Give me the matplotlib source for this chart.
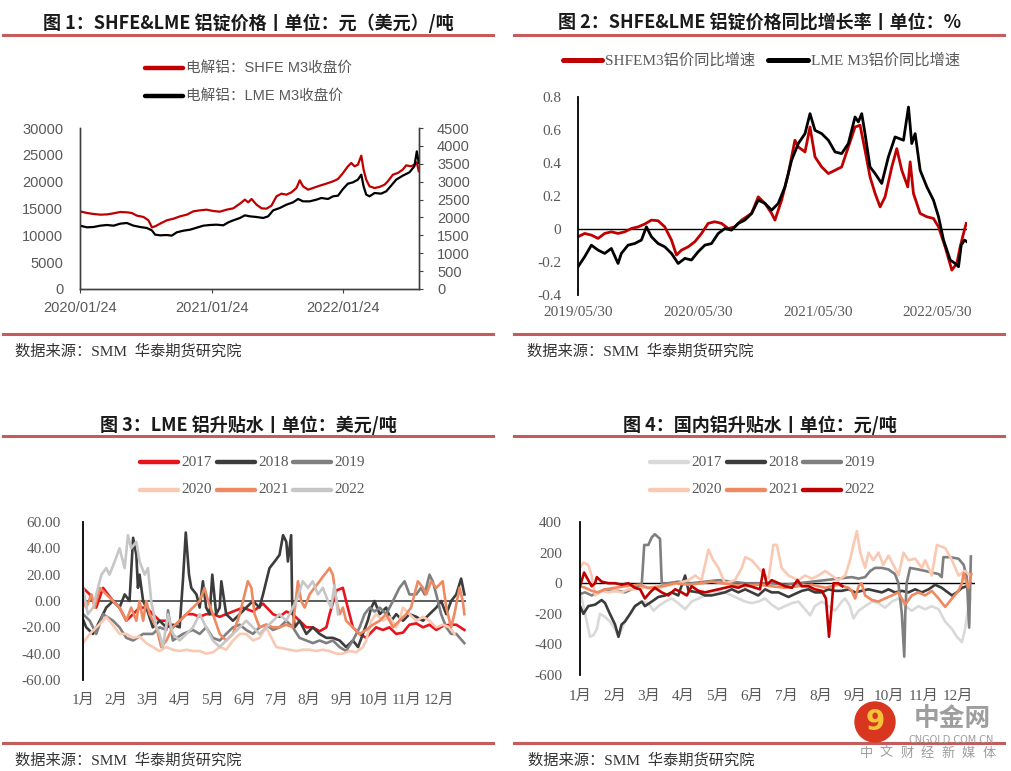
import matplotlib
matplotlib.use("Agg")
import matplotlib.pyplot as plt
from matplotlib.lines import Line2D
from matplotlib.patches import Ellipse
import numpy as np

W, H = 1011, 771
CJK = 'Noto Sans CJK SC'
SERIF = ['Liberation Serif', CJK]
SANS = ['Liberation Sans', CJK]

# ---- fig 1: SHFE / LME price, x = months after 2020/01/24
shfe_m3 = [(0, 14470), (0.64, 14160), (1.24, 13980), (1.85, 13850), (2.45, 13900), (3.06, 14100),
           (3.67, 14350), (4.27, 14290), (4.73, 14160), (5.18, 13670), (5.79, 13420), (6.24, 12800),
           (6.55, 11490), (6.85, 11680), (7.30, 12170), (7.91, 12800), (8.52, 13100), (9.12, 13540),
           (9.73, 13850), (10.33, 14470), (10.94, 14660), (11.55, 14780), (12.15, 14530), (12.76, 14410),
           (13.36, 14780), (13.97, 15030), (14.58, 15900), (15.03, 16650), (15.33, 16150), (15.64, 16770),
           (16.09, 15710), (16.55, 15030), (17.00, 14970), (17.45, 15530), (17.91, 17270), (18.36, 17760),
           (18.82, 17580), (19.27, 18010), (19.73, 18820), (20.03, 20250), (20.33, 19130), (20.79, 18510),
           (21.24, 18820), (21.85, 19250), (22.45, 19630), (23.06, 20060), (23.52, 20500), (23.97, 21600),
           (24.42, 22860), (24.73, 23480), (25.03, 22860), (25.33, 23170), (25.64, 24850), (25.85, 22240),
           (26.09, 20370), (26.39, 19130), (26.85, 18820), (27.30, 19010), (27.76, 19440), (28.06, 20060),
           (28.52, 21300), (28.97, 21620), (29.42, 22240), (29.73, 23040), (30.18, 22860), (30.48, 23170),
           (30.70, 23600), (30.88, 21930)]
lme_m3 = [(0, 1770), (0.64, 1724), (1.24, 1733), (1.85, 1770), (2.45, 1789), (3.06, 1770), (3.67, 1826),
          (4.27, 1845), (4.88, 1770), (5.48, 1733), (6.09, 1705), (6.55, 1640), (6.85, 1519), (7.30, 1500),
          (7.91, 1509), (8.36, 1491), (8.82, 1584), (9.42, 1630), (10.03, 1658), (10.64, 1714), (11.24, 1770),
          (11.85, 1789), (12.45, 1798), (13.06, 1780), (13.52, 1863), (13.97, 1919), (14.58, 1985),
          (15.03, 2059), (15.48, 2031), (16.09, 2012), (16.70, 1985), (17.15, 2031), (17.61, 2199),
          (18.21, 2264), (18.82, 2357), (19.42, 2422), (19.88, 2516), (20.33, 2450), (20.94, 2450),
          (21.55, 2497), (22.00, 2544), (22.61, 2516), (23.06, 2590), (23.52, 2609), (23.97, 2795),
          (24.42, 2944), (24.88, 2981), (25.33, 3056), (25.64, 3196), (25.85, 2870), (26.09, 2637),
          (26.39, 2590), (26.85, 2683), (27.45, 2665), (27.91, 2730), (28.36, 2888), (28.82, 3056),
          (29.42, 3168), (30.03, 3261), (30.48, 3429), (30.70, 3848), (30.88, 3522)]
fig1_ticks = [0, 12, 24]
fig1_labels = ['2020/01/24', '2021/01/24', '2022/01/24']

# ---- fig 2: yoy growth, x = months after 2019/05/30
shfe_yoy = [(0, -0.047), (0.67, -0.027), (1.34, -0.037), (2.01, -0.057), (2.67, -0.027), (3.34, -0.017),
            (4.01, -0.027), (4.68, -0.017), (5.35, 0.003), (6.02, 0.013), (6.68, 0.030), (7.35, 0.054),
            (8.02, 0.050), (8.69, 0.013), (9.36, -0.067), (9.86, -0.158), (10.36, -0.128), (11.03, -0.108),
            (11.70, -0.077), (12.37, -0.027), (13.03, 0.034), (13.70, 0.044), (14.37, 0.034), (15.04, 0.003),
            (15.71, 0.013), (16.38, 0.054), (17.38, 0.094), (18.05, 0.195), (18.72, 0.155), (19.39, 0.094),
            (19.72, 0.054), (20.39, 0.175), (21.06, 0.336), (21.72, 0.538), (22.06, 0.497), (22.73, 0.467),
            (23.23, 0.618), (23.73, 0.437), (24.40, 0.376), (25.07, 0.336), (25.74, 0.356), (26.40, 0.376),
            (27.07, 0.497), (27.74, 0.618), (28.24, 0.629), (28.74, 0.477), (29.24, 0.316), (29.75, 0.215),
            (30.25, 0.134), (30.75, 0.195), (31.42, 0.376), (31.92, 0.487), (32.42, 0.356), (33.02, 0.255),
            (33.26, 0.407), (33.59, 0.215), (34.26, 0.094), (34.93, 0.074), (35.59, 0.064), (36.10, 0.013),
            (36.76, -0.108), (37.43, -0.249), (37.93, -0.209), (38.27, -0.108), (38.60, -0.027), (38.87, 0.034)]
lme_yoy = [(0, -0.229), (0.67, -0.168), (1.34, -0.098), (2.01, -0.128), (2.67, -0.148), (3.34, -0.118),
           (4.01, -0.209), (4.34, -0.148), (5.01, -0.098), (5.68, -0.088), (6.35, -0.067), (6.85, 0.013),
           (7.35, -0.047), (8.02, -0.088), (8.69, -0.108), (9.36, -0.148), (10.03, -0.209), (10.70, -0.178),
           (11.36, -0.188), (12.03, -0.138), (12.70, -0.098), (13.37, -0.088), (14.04, -0.027), (14.71, 0.003),
           (15.37, -0.007), (16.04, 0.034), (16.71, 0.054), (17.38, 0.094), (18.05, 0.175), (18.72, 0.155),
           (19.39, 0.114), (20.05, 0.155), (20.72, 0.255), (21.39, 0.417), (22.06, 0.518), (22.73, 0.578),
           (23.23, 0.699), (23.73, 0.598), (24.40, 0.578), (25.07, 0.538), (25.74, 0.467), (26.40, 0.457),
           (27.07, 0.518), (27.74, 0.679), (28.07, 0.649), (28.41, 0.699), (28.74, 0.578), (29.24, 0.376),
           (29.75, 0.336), (30.41, 0.276), (31.08, 0.437), (31.75, 0.558), (32.59, 0.538), (33.09, 0.739),
           (33.42, 0.518), (33.76, 0.578), (34.26, 0.356), (34.93, 0.255), (35.59, 0.175), (36.10, 0.074),
           (36.60, -0.067), (37.27, -0.188), (37.77, -0.209), (38.10, -0.229), (38.37, -0.098), (38.70, -0.067),
           (38.94, -0.077)]
fig2_ticks = [0, 12, 24, 36]
fig2_labels = ['2019/05/30', '2020/05/30', '2021/05/30', '2022/05/30']

months = ['1月', '2月', '3月', '4月', '5月', '6月', '7月', '8月', '9月', '10月', '11月', '12月']
years = ['2017', '2018', '2019', '2020', '2021', '2022']

# ---- fig 3: LME premium by year, x = months into the year
lme_prem = {
    '2017': [(0, 10), (0.21, 5), (0.41, -5), (0.62, 10), (0.93, 0), (1.13, -5), (1.34, -15), (1.55, -10),
             (1.75, -5), (1.96, -5), (2.16, -10), (2.37, -15), (2.58, -15), (2.78, -20), (2.99, -15),
             (3.20, -10), (3.40, -10), (3.61, -12), (3.81, -10), (4.02, -10), (4.23, -12), (4.43, -10),
             (4.64, -8), (4.95, -5), (5.26, -8), (5.57, -2), (5.88, -10), (6.08, -12), (6.29, -8), (6.49, -10),
             (6.70, -15), (6.91, -20), (7.11, -20), (7.32, -23), (7.53, -20), (7.63, -10), (7.84, 8),
             (8.04, 10), (8.14, 0), (8.35, -20), (8.56, -25), (8.76, -28), (8.87, -25), (9.07, -20),
             (9.28, -22), (9.48, -20), (9.69, -25), (9.90, -24), (10.10, -18), (10.31, -17), (10.52, -20),
             (10.72, -18), (10.93, -22), (11.13, -19), (11.34, -18), (11.55, -18), (11.80, -22)],
    '2018': [(0, -14), (0.10, -20), (0.31, -25), (0.52, -15), (0.72, -5), (0.93, 0), (1.13, -5), (1.29, 5),
             (1.44, 0), (1.55, 48), (1.65, 35), (1.70, 10), (1.75, 20), (1.86, 0), (1.96, -5), (2.16, -20),
             (2.37, -15), (2.58, -20), (2.78, -18), (2.99, -20), (3.09, 15), (3.18, 52), (3.28, 20),
             (3.35, 10), (3.51, 5), (3.61, -5), (3.71, 15), (3.81, -5), (3.92, -10), (4.00, 20), (4.12, -10),
             (4.23, -5), (4.28, 15), (4.43, -10), (4.64, -15), (4.85, -10), (5.05, -5), (5.26, 0), (5.46, -5),
             (5.57, 5), (5.67, 15), (5.77, 25), (5.93, 30), (6.08, 35), (6.19, 50), (6.29, 45), (6.34, 30),
             (6.44, 50), (6.47, 0), (6.55, -20), (6.70, -15), (6.91, -25), (7.11, -20), (7.32, -25),
             (7.53, -28), (7.73, -28), (7.94, -30), (8.14, -35), (8.35, -30), (8.51, -35), (8.66, -25),
             (8.81, -15), (8.92, -5), (9.02, 0), (9.18, -10), (9.38, -5), (9.54, -15), (9.69, -10),
             (9.90, -15), (10.10, -10), (10.31, -12), (10.52, -15), (10.72, -10), (10.93, -5), (11.08, 0),
             (11.24, -10), (11.39, 0), (11.55, 5), (11.70, 17), (11.80, 5)],
    '2019': [(0, -10), (0.21, -15), (0.41, -25), (0.62, -10), (0.93, -15), (1.13, -20), (1.34, -28),
             (1.55, -30), (1.86, -25), (2.16, -25), (2.37, -20), (2.58, -22), (2.63, -7), (2.78, -30),
             (3.09, -25), (3.40, -22), (3.61, -25), (3.81, -20), (4.02, -28), (4.23, -30), (4.43, -25),
             (4.64, -20), (4.85, -18), (5.05, -22), (5.26, -25), (5.46, -20), (5.67, -18), (5.88, -22),
             (6.08, -20), (6.29, -15), (6.49, -20), (6.70, -28), (6.91, -30), (7.11, -32), (7.32, -30),
             (7.53, -32), (7.73, -30), (7.94, -35), (8.14, -38), (8.35, -30), (8.56, -20), (8.71, -10),
             (8.87, -5), (9.02, -8), (9.18, -5), (9.38, -10), (9.59, 0), (9.79, 10), (9.95, 15), (10.10, 5),
             (10.31, 5), (10.46, 10), (10.57, 5), (10.72, 20), (10.82, 15), (10.93, 5), (11.08, -10),
             (11.24, -20), (11.39, -25), (11.55, -25), (11.80, -32)],
    '2020': [(0, -32), (0.21, -25), (0.41, -20), (0.62, -15), (0.72, -12), (0.82, -15), (0.98, -20),
             (1.13, -25), (1.34, -25), (1.55, -28), (1.75, -27), (1.96, -32), (2.16, -35), (2.37, -38),
             (2.58, -35), (2.78, -37), (2.99, -38), (3.20, -37), (3.40, -38), (3.61, -38), (3.81, -40),
             (4.02, -39), (4.23, -35), (4.43, -37), (4.64, -30), (4.85, -25), (5.05, -25), (5.26, -30),
             (5.46, -28), (5.67, -20), (5.77, -25), (5.98, -35), (6.19, -36), (6.39, -37), (6.60, -38),
             (6.80, -37), (7.01, -37), (7.22, -38), (7.42, -37), (7.63, -38), (7.84, -40), (8.04, -40),
             (8.25, -38), (8.45, -39), (8.66, -35), (8.76, -30), (8.92, -15), (9.07, -10), (9.28, -15),
             (9.48, -12), (9.69, -20), (9.79, -15), (9.90, -5), (10.10, -10), (10.31, -15), (10.52, -12),
             (10.72, -15), (10.93, -20), (11.13, -18), (11.34, -20), (11.49, -25)],
    '2021': [(0, 0), (0.10, -5), (0.26, 5), (0.36, -5), (0.52, 10), (0.72, 5), (0.93, 0), (1.13, -5),
             (1.24, -10), (1.34, -15), (1.49, -5), (1.65, -15), (1.75, 0), (1.86, -15), (1.96, 0), (2.06, -10),
             (2.27, -20), (2.42, -35), (2.58, -30), (2.78, -20), (2.99, -15), (3.20, -10), (3.40, -5),
             (3.61, 0), (3.76, 10), (3.87, 0), (4.02, -10), (4.23, -25), (4.43, -30), (4.64, -25),
             (4.85, -10), (5.00, 5), (5.10, 15), (5.21, 10), (5.31, -10), (5.46, -20), (5.67, -18),
             (5.88, -20), (6.08, -20), (6.29, -18), (6.49, -20), (6.65, 15), (6.75, 0), (6.86, -5), (7.01, 5),
             (7.16, 10), (7.32, 15), (7.47, 20), (7.63, 25), (7.73, 20), (7.84, 0), (7.94, -10), (8.04, -5),
             (8.14, -15), (8.35, -20), (8.56, -25), (8.76, -22), (8.97, -18), (9.18, -15), (9.38, -10),
             (9.59, -20), (9.79, -15), (10.00, -10), (10.15, -5), (10.36, 15), (10.52, 10), (10.62, 5),
             (10.77, 15), (10.93, 10), (11.13, 15), (11.24, -5), (11.39, -20), (11.49, -10), (11.65, 10),
             (11.75, 0), (11.80, -10)],
    '2022': [(0, 10), (0.15, -10), (0.31, -5), (0.41, 5), (0.57, 20), (0.72, 25), (0.82, 20), (0.98, 30),
             (1.13, 40), (1.29, 25), (1.39, 50), (1.49, 40), (1.65, 45), (1.75, 30), (1.91, 20), (2.01, 25),
             (2.11, 0), (2.27, -20), (2.37, -25), (2.47, -35), (2.63, -10), (2.78, -25), (2.99, -30),
             (3.20, -25), (3.40, -20), (3.61, -10), (3.81, -20), (4.02, -30), (4.23, -35), (4.43, -30),
             (4.64, -25), (4.85, -20), (5.05, -15), (5.26, -20), (5.46, -25), (5.67, -20), (5.88, -15),
             (6.08, -10), (6.29, -15), (6.49, -5), (6.60, 0), (6.80, 15), (6.96, 10), (7.11, 15), (7.27, 5),
             (7.42, 10), (7.58, 0), (7.68, -5), (7.78, 12), (7.89, -10)],
}
lme_colors = ['#E8141B', '#3C3C3C', '#7F7F7F', '#F9C9B3', '#EE8A62', '#C6C6C6']

# ---- fig 4: domestic premium by year
cn_prem = {
    '2017': [(0, -50), (0.15, -200), (0.29, -350), (0.39, -340), (0.49, -300), (0.58, -200), (0.73, -220),
             (0.87, -250), (1.02, -300), (1.12, -350), (1.21, -300), (1.31, -250), (1.46, -200), (1.60, -150),
             (1.80, -120), (1.99, -130), (2.14, -180), (2.28, -150), (2.48, -120), (2.67, -100), (2.86, -130),
             (3.06, -170), (3.25, -120), (3.45, -100), (3.64, -80), (3.83, -60), (4.03, -50), (4.22, -60),
             (4.42, -80), (4.61, -100), (4.81, -120), (5.00, -130), (5.19, -120), (5.39, -100), (5.58, -140),
             (5.78, -170), (5.97, -150), (6.17, -130), (6.36, -120), (6.55, -170), (6.70, -210), (6.84, -150),
             (7.04, -120), (7.23, -150), (7.43, -180), (7.62, -120), (7.72, -100), (7.86, -150), (7.96, -230),
             (8.11, -180), (8.30, -150), (8.50, -120), (8.69, -130), (8.88, -160), (9.08, -120), (9.27, -100),
             (9.47, -150), (9.66, -180), (9.85, -150), (10.05, -170), (10.24, -150), (10.44, -170),
             (10.63, -250), (10.83, -300), (10.97, -350), (11.12, -385), (11.21, -300), (11.31, -150),
             (11.36, -100)],
    '2018': [(0, -150), (0.10, -200), (0.24, -150), (0.44, -140), (0.63, -110), (0.73, -130), (0.87, -200),
             (1.02, -270), (1.12, -350), (1.21, -270), (1.31, -250), (1.46, -200), (1.60, -150), (1.80, -120),
             (1.89, -150), (2.09, -120), (2.28, -90), (2.48, -80), (2.67, -60), (2.86, -80), (3.06, 50),
             (3.16, -50), (3.45, -60), (3.64, -80), (3.83, -80), (4.03, -70), (4.22, -60), (4.42, -40),
             (4.61, -60), (4.81, -40), (5.00, -60), (5.19, -80), (5.39, -40), (5.58, -60), (5.78, -60),
             (5.97, -80), (6.07, -90), (6.26, -70), (6.46, -50), (6.65, -40), (6.84, -60), (7.04, -60),
             (7.23, -40), (7.43, -50), (7.62, -50), (7.82, -40), (8.01, -60), (8.20, -50), (8.40, -40),
             (8.59, -50), (8.79, -60), (8.98, -40), (9.17, -60), (9.37, -50), (9.56, -60), (9.76, -40),
             (9.95, -60), (10.15, -40), (10.34, -10), (10.53, -30), (10.83, -80), (10.97, -60), (11.12, -30),
             (11.26, -20), (11.36, 0)],
    '2019': [(0, -70), (0.15, -60), (0.34, -80), (0.53, -60), (0.73, -40), (0.92, -50), (1.12, -50),
             (1.31, -60), (1.50, -40), (1.70, -20), (1.80, 0), (1.87, 250), (1.99, 250), (2.09, 300),
             (2.18, 320), (2.33, 290), (2.38, 0), (2.57, 0), (2.86, 10), (3.25, 0), (3.64, 10), (4.03, 20),
             (4.42, 10), (4.81, 0), (5.19, 0), (5.58, 0), (5.97, -10), (6.36, 0), (6.75, 10), (7.14, 20),
             (7.52, 30), (7.91, 40), (8.11, 30), (8.30, 40), (8.45, 80), (8.59, 100), (8.79, 100), (8.98, 90),
             (9.17, 60), (9.27, 0), (9.37, -200), (9.44, -480), (9.47, -200), (9.51, 0), (9.61, 100),
             (9.85, 90), (10.05, 80), (10.24, 70), (10.44, 60), (10.53, 40), (10.58, 170), (10.78, 170),
             (11.02, 160), (11.17, 120), (11.26, 40), (11.33, -290), (11.38, 175)],
    '2020': [(0, 100), (0.10, 135), (0.24, 120), (0.34, 50), (0.44, -80), (0.63, -50), (0.83, -60),
             (1.02, -50), (1.21, -60), (1.41, -40), (1.60, -40), (1.89, -30), (2.18, -40), (2.48, -20),
             (2.86, 0), (3.16, 20), (3.35, 50), (3.54, 20), (3.74, 220), (3.88, 150), (4.03, 100), (4.22, 0),
             (4.51, 20), (4.71, 100), (4.81, 170), (5.00, 150), (5.19, 100), (5.39, 50), (5.49, 30),
             (5.63, 250), (5.73, 250), (5.87, 100), (6.07, 50), (6.36, 20), (6.55, 50), (6.75, 30), (6.94, 50),
             (7.14, 80), (7.33, 50), (7.52, 20), (7.72, 50), (7.86, 150), (7.96, 250), (8.06, 340), (8.16, 200),
             (8.30, 100), (8.40, 200), (8.54, 150), (8.69, 200), (8.83, 120), (8.98, 180), (9.17, 100),
             (9.27, 50), (9.42, 200), (9.56, 150), (9.76, 160), (9.95, 100), (10.05, 150), (10.24, 50),
             (10.39, 250), (10.63, 230), (10.83, 150), (11.02, 50), (11.21, 80), (11.36, 50)],
    '2021': [(0, -20), (0.15, -30), (0.34, -50), (0.53, -60), (0.73, -40), (1.02, -30), (1.31, -20),
             (1.70, -10), (1.99, -30), (2.38, -20), (2.77, 0), (3.16, -10), (3.54, 0), (3.83, 10), (4.13, 0),
             (4.51, -10), (4.81, -20), (5.19, -10), (5.58, -20), (5.97, -30), (6.36, -20), (6.75, -10),
             (7.14, -30), (7.52, -10), (7.82, -30), (7.91, -50), (8.01, -100), (8.11, -20), (8.20, 0),
             (8.30, -80), (8.50, -110), (8.69, -120), (8.88, -100), (9.08, -80), (9.27, -60), (9.37, -100),
             (9.47, -140), (9.66, -80), (9.85, -60), (10.05, -80), (10.24, -50), (10.44, -100), (10.63, -155),
             (10.83, -100), (11.02, -50), (11.12, 0), (11.17, 65), (11.26, 0), (11.31, -30), (11.39, 60)],
    '2022': [(0, -20), (0.12, 70), (0.19, 40), (0.34, -20), (0.44, 0), (0.49, 40), (0.63, 10), (0.83, 0),
             (1.02, 0), (1.21, -10), (1.41, 0), (1.60, -30), (1.75, -40), (1.89, -100), (2.04, -60),
             (2.18, -30), (2.38, -60), (2.57, -80), (2.77, -40), (2.96, -60), (3.11, -80), (3.25, -20),
             (3.45, -50), (3.64, -60), (3.83, -50), (4.03, -40), (4.22, -30), (4.42, -20), (4.61, -30),
             (4.81, -10), (5.10, -30), (5.24, -40), (5.34, 90), (5.44, -10), (5.58, 20), (5.78, 0), (5.97, -20),
             (6.17, -30), (6.33, 20), (6.46, -20), (6.65, -20), (6.84, -40), (7.04, -50), (7.16, -100),
             (7.25, -350), (7.31, -200), (7.38, 0), (7.52, 0), (7.64, -20)],
}
cn_colors = ['#D9D9D9', '#3C3C3C', '#7F7F7F', '#F9C9B3', '#EE8A62', '#C00000']

RULE = '#C65B5B'
TXT = '#595959'


def fx(x):
    return x / W


def fy(y):
    return 1 - y / H


def axes_px(fig, left, top, right, bottom):
    return fig.add_axes([fx(left), fy(bottom), (right - left) / W, (bottom - top) / H])


def rule(fig, x0, x1, y):
    fig.add_artist(Line2D([fx(x0), fx(x1)], [fy(y), fy(y)], transform=fig.transFigure,
                          color=RULE, lw=2.2))


def key(fig, x0, x1, y, color, label, family, size=11, lw=3.2):
    fig.add_artist(Line2D([fx(x0), fx(x1)], [fy(y), fy(y)], transform=fig.transFigure,
                          color=color, lw=lw, solid_capstyle='round'))
    fig.text(fx(x1 + 3), fy(y), label, ha='left', va='center', fontsize=size,
             family=family, color=TXT)


def unzip(pairs):
    a = np.array(pairs, dtype=float)
    return a[:, 0], a[:, 1]


fig = plt.figure(figsize=(W / 100, H / 100), dpi=100)

# titles, rules and sources
titles = [('图 1：SHFE&LME 铝锭价格丨单位：元（美元）/吨', 248, 23),
          ('图 2：SHFE&LME 铝锭价格同比增长率丨单位：%', 760, 23),
          ('图 3：LME 铝升贴水丨单位：美元/吨', 248, 425),
          ('图 4：国内铝升贴水丨单位：元/吨', 760, 425)]
for t, x, y in titles:
    fig.text(fx(x), fy(y), t, ha='center', va='center', fontsize=13, fontweight='bold',
             family=CJK, color='#1a1a1a')
for x0, x1 in [(3, 493), (514, 1004)]:
    rule(fig, x0, x1, 35)
    rule(fig, x0, x1, 334)
    rule(fig, x0, x1, 436)
    rule(fig, x0, x1, 743)
for x, y in [(15, 351), (527, 351), (15, 760), (528, 760)]:
    fig.text(fx(x), fy(y), '数据来源：SMM  华泰期货研究院', ha='left', va='center', fontsize=11,
             family=SERIF, color='#333333')

# ---------- panel 1
ax1 = axes_px(fig, 80, 128, 419, 289)
ax1r = ax1.twinx()
x, y = unzip(shfe_m3)
ax1.plot(x, y, color='#C00000', lw=1.6)
x, y = unzip(lme_m3)
ax1r.plot(x, y, color='#000000', lw=1.6)
ax1.set_xlim(0, 30.9)
ax1.set_ylim(0, 30000)
ax1r.set_ylim(0, 4500)
ax1.set_yticks(np.arange(0, 30001, 5000))
ax1r.set_yticks(np.arange(0, 4501, 500))
ax1.set_xticks(fig1_ticks)
ax1.set_xticklabels(fig1_labels)
for a in (ax1, ax1r):
    a.spines['top'].set_visible(False)
    for s in ('left', 'right', 'bottom'):
        a.spines[s].set_color('#404040')
        a.spines[s].set_linewidth(1.0)
    a.tick_params(labelsize=10.5, labelcolor=TXT, colors='#404040')
    for lab in a.get_xticklabels() + a.get_yticklabels():
        lab.set_family(SANS)
ax1.tick_params(axis='y', length=0, pad=12)
ax1.tick_params(axis='x', length=3, pad=6)
ax1r.tick_params(axis='y', length=3, pad=10)
key(fig, 145, 183, 68, '#C00000', '电解铝：SHFE M3收盘价', SANS, size=10.5)
key(fig, 145, 183, 96, '#000000', '电解铝：LME M3收盘价', SANS, size=10.5)

# ---------- panel 2
ax2 = axes_px(fig, 578, 97, 967, 295)
x, y = unzip(shfe_yoy)
ax2.plot(x, y, color='#C00000', lw=2.0)
x, y = unzip(lme_yoy)
ax2.plot(x, y, color='#000000', lw=2.0)
ax2.axhline(0, color='#000000', lw=1.0, zorder=0)
ax2.set_xlim(0, 38.95)
ax2.set_ylim(-0.4, 0.8)
ax2.set_yticks([-0.4, -0.2, 0, 0.2, 0.4, 0.6, 0.8])
ax2.set_yticklabels(['-0.4', '-0.2', '0', '0.2', '0.4', '0.6', '0.8'])
ax2.set_xticks(fig2_ticks)
ax2.set_xticklabels(fig2_labels)
key(fig, 563, 602, 60, '#C00000', 'SHFEM3铝价同比增速', SERIF, size=11, lw=3.6)
key(fig, 768, 808, 60, '#000000', 'LME M3铝价同比增速', SERIF, size=11, lw=3.6)

# ---------- panel 3
ax3 = axes_px(fig, 83, 522, 466, 680)
for yr, c in zip(years, lme_colors):
    x, y = unzip(lme_prem[yr])
    ax3.plot(x, y, color=c, lw=1.9)
ax3.axhline(0, color='#404040', lw=1.2, zorder=0)
ax3.set_xlim(0, 11.85)
ax3.set_ylim(-60, 60)
yt3 = np.arange(-60, 61, 20)
ax3.set_yticks(yt3)
ax3.set_yticklabels(['%.2f' % v for v in yt3])
for i, (yr, c) in enumerate(zip(years, lme_colors)):
    col, row = i % 3, i // 3
    x0 = [140, 217, 293][col]
    key(fig, x0, x0 + 38, 462 + 28 * row, c, yr, SERIF, size=11, lw=3.2)

# ---------- panel 4
ax4 = axes_px(fig, 580, 522, 975, 675)
for yr, c in zip(years, cn_colors):
    x, y = unzip(cn_prem[yr])
    ax4.plot(x, y, color=c, lw=1.9)
ax4.axhline(0, color='#000000', lw=1.0, zorder=0)
ax4.set_xlim(0, 11.5)
ax4.set_ylim(-600, 400)
yt4 = np.arange(-600, 401, 200)
ax4.set_yticks(yt4)
ax4.set_yticklabels(['%d' % v for v in yt4])
for i, (yr, c) in enumerate(zip(years, cn_colors)):
    col, row = i % 3, i // 3
    x0 = [650, 727, 803][col]
    key(fig, x0, x0 + 38, 462 + 28 * row, c, yr, SERIF, size=11, lw=3.2)

for a in (ax3, ax4):
    a.set_xticks(range(12))
    a.set_xticklabels(months)
for a, pad in ((ax2, 12), (ax3, 16), (ax4, 13)):
    for s in ('top', 'right', 'bottom'):
        a.spines[s].set_visible(False)
    a.spines['left'].set_color('#000000')
    a.spines['left'].set_linewidth(1.3)
    a.tick_params(axis='y', length=0, pad=pad, labelsize=11, labelcolor=TXT)
    a.tick_params(axis='x', length=0, pad=10, labelsize=11, labelcolor=TXT)
    for lab in a.get_xticklabels() + a.get_yticklabels():
        lab.set_family(SERIF)
ax2.tick_params(axis='x', pad=8)
ax4.tick_params(axis='x', pad=11)

# watermark
fig.add_artist(Ellipse((fx(875), fy(722)), 40 / W, 40 / H, transform=fig.transFigure,
                       color='#D8361F', zorder=5))
fig.text(fx(875), fy(722), '9', ha='center', va='center', fontsize=20, fontweight='bold',
         color='#F6C23A', family='DejaVu Sans', zorder=6)
fig.text(fx(952), fy(719), '中金网', ha='center', va='center', fontsize=18.5, fontweight='bold',
         color='#9E9E9E', family=CJK, zorder=6)
fig.text(fx(951), fy(740), 'CNGOLD.COM.CN', ha='center', va='center', fontsize=7,
         color='#9E9E9E', family='DejaVu Sans', zorder=6)
for i, ch in enumerate('中文财经新媒体'):
    fig.text(fx(866 + 20.5 * i), fy(753), ch, ha='center', va='center', fontsize=9.5,
             color='#9E9E9E', family=CJK, zorder=6)

fig.savefig('out.png', dpi=100)
